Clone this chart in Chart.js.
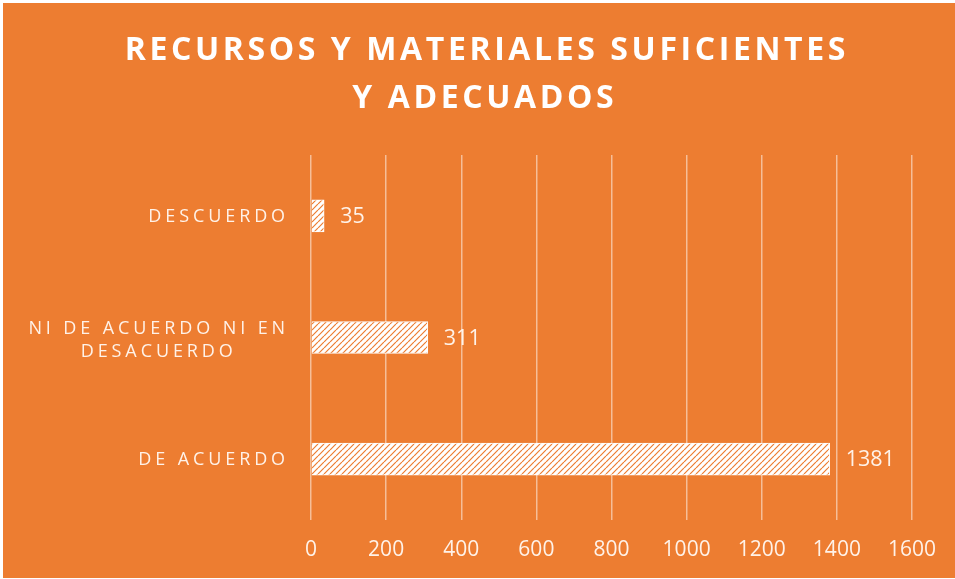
<!DOCTYPE html>
<html>
<head>
<meta charset="utf-8">
<script src="https://cdn.jsdelivr.net/npm/chart.js@4"></script>
<style>
  html, body { margin: 0; padding: 0; background: #ffffff; }
  #wrap { position: absolute; left: 0; top: 0; width: 955px; height: 579px; }
</style>
</head>
<body>
<div id="wrap"><canvas id="grafico" width="955" height="579"></canvas></div>
<script>
// Datos del gráfico
const categorias = [['DESCUERDO'], ['NI DE ACUERDO NI EN', 'DESACUERDO'], ['DE ACUERDO']];
const valores = [35, 311, 1381];
const tituloLineas = ['RECURSOS Y MATERIALES SUFICIENTES', 'Y ADECUADOS'];
const ejeMin = 0;
const ejeMax = 1600;
const ejePaso = 200;

const NARANJA = '#ED7D31';
const TEXTO = 'rgba(255,246,238,0.97)';

// Patrón de rayas diagonales (blanco con líneas naranjas)
function crearTrama() {
    const c = document.createElement('canvas');
    c.width = 6; c.height = 6;
    const g = c.getContext('2d');
    g.fillStyle = '#ffffff';
    g.fillRect(0, 0, 6, 6);
    g.strokeStyle = NARANJA;
    g.lineWidth = 1.2;
    g.beginPath();
    for (let k = -6; k <= 12; k += 6) {
        g.moveTo(k, 6);
        g.lineTo(k + 6, 0);
    }
    g.stroke();
    return g.createPattern(c, 'repeat');
}

// Fondo naranja
const fondo = {
    id: 'fondo',
    beforeDraw(chart) {
        const ctx = chart.ctx;
        ctx.save();
        ctx.fillStyle = NARANJA;
        ctx.fillRect(3, 3, chart.width - 3, chart.height - 4);
        ctx.restore();
    }
};

// Texto espaciado: título, etiquetas de categoría y valores
const textos = {
    id: 'textos',
    afterDraw(chart) {
        const ctx = chart.ctx;
        const y = chart.scales.y;
        const x = chart.scales.x;
        ctx.save();

        // título
        ctx.fillStyle = '#ffffff';
        ctx.font = 'bold 32px "Open Sans", sans-serif';
        ctx.letterSpacing = '3.6px';
        ctx.textAlign = 'center';
        ctx.textBaseline = 'middle';
        ctx.fillText(tituloLineas[0], 485 + 1.8, 51);
        ctx.fillText(tituloLineas[1], 483 + 1.8, 99);

        // categorías
        ctx.fillStyle = TEXTO;
        ctx.font = '18px "Open Sans", sans-serif';
        ctx.letterSpacing = '3.9px';
        const derecha = 289;
        categorias.forEach((lineas, i) => {
            const cy = y.getPixelForValue(i) + 1;
            const anchos = lineas.map(t => ctx.measureText(t).width);
            const maxAncho = Math.max(...anchos);
            const cx = derecha - maxAncho / 2;
            const alto = 23;
            lineas.forEach((t, j) => {
                ctx.fillText(t, cx, cy + (j - (lineas.length - 1) / 2) * alto + (lineas.length > 1 ? 1.5 : 0));
            });
        });

        // valores
        ctx.letterSpacing = '0px';
        ctx.font = '21.5px "Open Sans", sans-serif';
        ctx.textAlign = 'left';
        valores.forEach((v, i) => {
            ctx.fillText(String(v), x.getPixelForValue(v) + 16, y.getPixelForValue(i) + 1);
        });
        ctx.restore();
    }
};

new Chart(document.getElementById('grafico'), {
    type: 'bar',
    data: {
        labels: categorias.map(l => l.join(' ')),
        datasets: [{
            data: valores,
            backgroundColor: crearTrama(),
            borderColor: '#ffffff',
            borderWidth: 1,
            barThickness: 32
        }]
    },
    options: {
        indexAxis: 'y',
        responsive: false,
        animation: false,
        layout: { padding: { top: 155, left: 311, right: 43, bottom: 0 } },
        plugins: {
            legend: { display: false },
            tooltip: { enabled: false },
            title: { display: false }
        },
        scales: {
            x: {
                min: ejeMin,
                max: ejeMax,
                ticks: {
                    stepSize: ejePaso,
                    color: TEXTO,
                    padding: 17,
                    font: { family: '"Open Sans", sans-serif', size: 21 },
                    callback: v => String(v)
                },
                grid: { color: 'rgba(255,255,255,0.5)', lineWidth: 1.5, drawTicks: false },
                border: { display: false },
                afterFit(scale) { scale.height = 59; }
            },
            y: {
                display: false
            }
        }
    },
    plugins: [fondo, textos]
});
</script>
</body>
</html>
